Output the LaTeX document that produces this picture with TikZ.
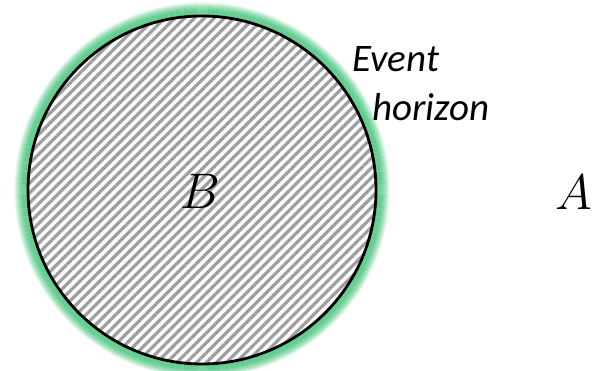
\RequirePackage{fix-cm}
\documentclass[tikz,border=0pt]{standalone}
\usepackage{fontspec}
\setsansfont{Carlito}
\usepackage{tikz}
\usetikzlibrary{positioning,patterns.meta}
\definecolor{glowc}{RGB}{100,205,145}
\tikzset{x=1pt,y=-1pt,
hole/.style={circle,draw,line width=2.8pt,minimum size=348pt,inner sep=0pt,
  preaction={fill=white},
  pattern={Lines[angle=45,distance=7pt,line width=3.2pt]},pattern color=black!38},
el/.style={font=\fontsize{50}{50}\selectfont,inner sep=0pt},
tx/.style={font=\sffamily\itshape\fontsize{39}{51}\selectfont,align=left,inner sep=0pt},
}
\begin{document}
\begin{tikzpicture}
\useasboundingbox (0,0) rectangle (594,371);
\coordinate (c) at (202,190);
% soft green rim
\foreach \i in {1,...,14}
  \draw[glowc,line width=1.3pt,opacity={min(1,1.7*(1-\i/15))}] (c) circle ({173+\i});
\node[hole] (bh) at (c) {};
\node[el] (b) at (200,191) {$B$};
\node[el] (a) at (574,192) {$A$};
\node[tx,anchor=north west] (eh) at (352,46) {Event\\[-2pt]\hspace{20pt}horizon};
\end{tikzpicture}
\end{document}
